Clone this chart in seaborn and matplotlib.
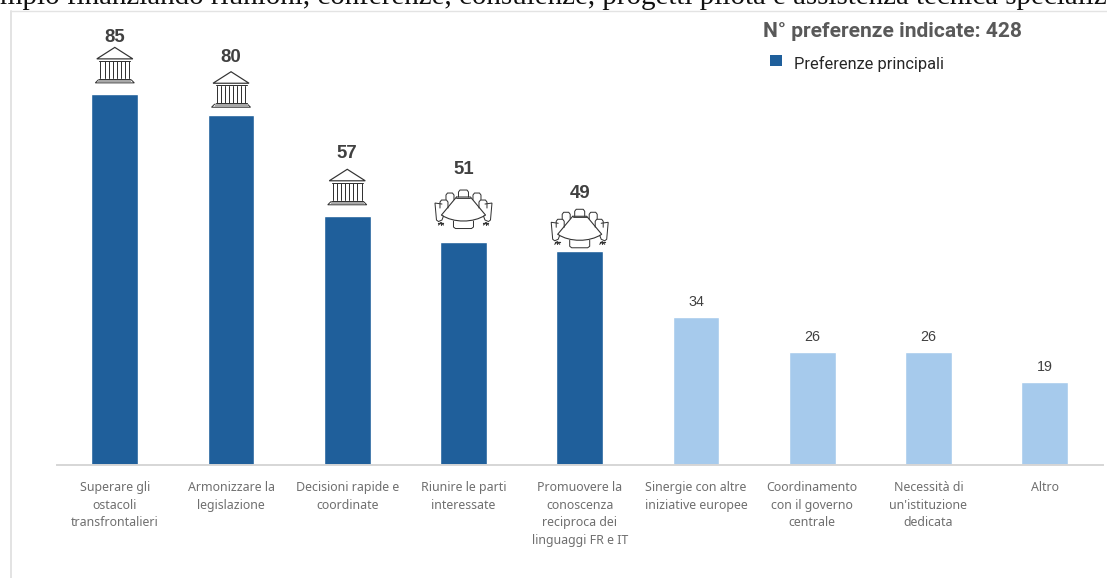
import matplotlib
matplotlib.use("Agg")
import matplotlib.pyplot as plt
import pandas as pd
import seaborn as sns
from matplotlib.lines import Line2D
from matplotlib.offsetbox import AnnotationBbox, DrawingArea
from matplotlib.patches import Patch, PathPatch, Rectangle
from matplotlib.path import Path

categories = [
    "Superare gli\nostacoli\ntransfrontalieri",
    "Armonizzare la\nlegislazione",
    "Decisioni rapide e\ncoordinate",
    "Riunire le parti\ninteressate",
    "Promuovere la\nconoscenza\nreciproca dei\nlinguaggi FR e IT",
    "Sinergie con altre\niniziative europee",
    "Coordinamento\ncon il governo\ncentrale",
    "Necessità di\nun'istituzione\ndedicata",
    "Altro",
]
preferences = [85, 80, 57, 51, 49, 34, 26, 26, 19]
groups = ["Preferenze principali"] * 5 + ["Altre"] * 4
icons = ["temple", "temple", "temple", "table", "table"]

DARK_BLUE = "#1f5f9b"
LIGHT_BLUE = "#a6caec"
INK = "#404040"
FRAME = "#e3e3e3"
PX = 0.72  # one output pixel in points at 100 dpi

# Lift above each bar top, in pixels, for the bold labels and the icons
label_lift = [57.5, 59.5, 64, 74.5, 59.5]
icon_lift = [10.2, 7.7, 10.7, 13.2, 2.7]

sns.set_theme(style="white")
fig = plt.figure(figsize=(11.07, 5.78), dpi=100)
ax = fig.add_axes([56.7 / 1107, (578 - 465.2) / 578, 1046 / 1107, 454 / 578])

df = pd.DataFrame({"categoria": categories, "preferenze": preferences, "gruppo": groups})
sns.barplot(
    data=df, x="categoria", y="preferenze", hue="gruppo",
    palette={"Preferenze principali": DARK_BLUE, "Altre": LIGHT_BLUE},
    dodge=False, width=0.402, legend=False, ax=ax, saturation=1,
)
ax.set_xlim(-0.5, 8.5)
ax.set_ylim(0, 454 / 4.372)
ax.set_xlabel("")
ax.set_ylabel("")
ax.set_yticks([])
sns.despine(ax=ax, left=True, top=True, right=True)
ax.spines["bottom"].set_color("#d6d6d6")
ax.spines["bottom"].set_linewidth(1.4)
ax.patch.set_alpha(0)
ax.tick_params(axis="x", length=0, pad=11.2)
for tick in ax.get_xticklabels():
    tick.set_fontfamily("Noto Sans")
    tick.set_fontsize(8.95)
    tick.set_color("#6f6f6f")
    tick.set_linespacing(1.48)


def stroke(area, verts, closed=False, lw=1.0):
    pts = [(x * PX, y * PX) for x, y in verts]
    codes = [Path.MOVETO] + [Path.LINETO] * (len(pts) - 1)
    if closed:
        pts.append(pts[0])
        codes.append(Path.CLOSEPOLY)
    area.add_artist(PathPatch(Path(pts, codes), fc="none", ec="#333333", lw=lw * PX, capstyle="round"))


def temple_icon():
    # Local pixel grid: origin at the bottom centre of a 39 x 36 box
    area = DrawingArea(39 * PX, 36 * PX, 19.5 * PX, 0)
    stroke(area, [(-19.5, 0.5), (19.5, 0.5), (16.5, 3.5), (-16.5, 3.5)], closed=True)
    area.add_artist(Rectangle((-16.5 * PX, 1 * PX), 33 * PX, 2.5 * PX, fc="#a8a8a8", ec="none"))
    stroke(area, [(-15.5, 4.5), (15.5, 4.5)])
    for step in range(8):
        left = -14.4 + step * 4.1
        stroke(area, [(left, 5), (left, 22)], lw=1.0)
    stroke(area, [(-15.5, 22.5), (15.5, 22.5)])
    stroke(area, [(-18, 24.5), (0, 36), (18, 24.5)], closed=True, lw=1.2)
    return area


def chair(area, x0, x1, y0, y1, sign=1):
    stroke(area, [(sign * x0, y0), (sign * x0, y1 - 2), (sign * (x0 + 1.5), y1),
                  (sign * (x1 - 1.5), y1), (sign * x1, y1 - 2), (sign * x1, y0)], lw=1.0)


def table_icon():
    # Local pixel grid: origin at the bottom centre of a 57 x 39 box
    area = DrawingArea(57 * PX, 39 * PX, 28.5 * PX, 0)
    # Conference table with its bowed front edge
    stroke(area, [(-7, 32), (7, 32), (22, 14)], lw=1.1)
    stroke(area, [(-7, 32), (-22, 14)], lw=1.1)
    front = Path(
        [(-22 * PX, 14 * PX), (-10 * PX, 6 * PX), (10 * PX, 6 * PX), (22 * PX, 14 * PX)],
        [Path.MOVETO, Path.CURVE4, Path.CURVE4, Path.CURVE4],
    )
    area.add_artist(PathPatch(front, fc="none", ec="#333333", lw=1.1 * PX))
    stroke(area, [(-7, 31), (7, 31)], lw=0.9)
    # Head chair and the front chair
    chair(area, -5, 5, 32, 39)
    stroke(area, [(-10, 8), (-10, 2), (-8, 0.5), (8, 0.5), (10, 2), (10, 8)])
    for sign in (-1, 1):
        chair(area, 9.5, 17.5, 29.5, 36, sign)
        chair(area, 15.5, 23.5, 21, 29, sign)
        # Large side chair and its castors
        stroke(area, [(sign * 21.5, 25), (sign * 28.5, 26), (sign * 27, 9),
                      (sign * 25, 7.5), (sign * 21.5, 9), (sign * 20, 13)])
        stroke(area, [(sign * 20, 6.5), (sign * 25, 6.5)], lw=1.3)
        for foot in (20, 22.5, 25):
            stroke(area, [(sign * 22.5, 6.5), (sign * foot, 4)], lw=1.1)
    return area


builders = {"temple": temple_icon, "table": table_icon}
for pos, (value, kind, lift_t, lift_i) in enumerate(zip(preferences, icons, label_lift, icon_lift)):
    box = AnnotationBbox(
        builders[kind](), (pos, value), xybox=(0, lift_i * PX), xycoords="data",
        boxcoords="offset points", box_alignment=(0.5, 0), frameon=False, pad=0,
        annotation_clip=False,
    )
    ax.add_artist(box)
    ax.annotate(str(value), (pos, value), xytext=(0, (lift_t - 1.8) * PX), textcoords="offset points",
                ha="center", va="center", fontsize=13.4, fontweight="bold",
                family="Liberation Sans", color=INK)

for pos, value in list(enumerate(preferences))[5:]:
    ax.annotate(str(value), (pos, value), xytext=(0, 14.7 * PX), textcoords="offset points",
                ha="center", va="center", fontsize=10.3, family="Liberation Sans", color=INK)

# Running text of the page above, cut by the top edge, and the panel frame
fig.text(-0.5 / 1107, 1 - 3.5 / 578, "mpio finanziando riunioni, conferenze, consulenze, progetti pilota e assistenza tecnica specializ",
         family="Liberation Serif", fontsize=20.9, color="#111111", ha="left", va="baseline")
fig.add_artist(Line2D([11 / 1107, 11 / 1107], [0, 1 - 10.5 / 578], color=FRAME, lw=1.4))
fig.add_artist(Line2D([11 / 1107, 1], [1 - 10.5 / 578, 1 - 10.5 / 578], color=FRAME, lw=1.0))

fig.text(763 / 1107, 1 - 31.5 / 578, "N° preferenze indicate: 428", family="Roboto", fontweight="bold",
         fontsize=15.1, color="#595959", ha="left", va="center")
handle = Patch(facecolor=DARK_BLUE, edgecolor="none", label="Preferenze principali")
leg = fig.legend(handles=[handle], loc="center left", bbox_to_anchor=(770 / 1107, 1 - 63.5 / 578),
                 frameon=False, handlelength=0.755, handleheight=0.66,
                 handletextpad=0.7, borderpad=0, borderaxespad=0,
                 prop={"family": "Roboto", "size": 11.75})
for text in leg.get_texts():
    text.set_color("#262626")
# The swatch sits slightly above the text's middle
swatch = leg.get_patches()[0]
swatch.set_y(swatch.get_y() + 2.5 * PX)

fig.savefig("out.png", dpi=100)
